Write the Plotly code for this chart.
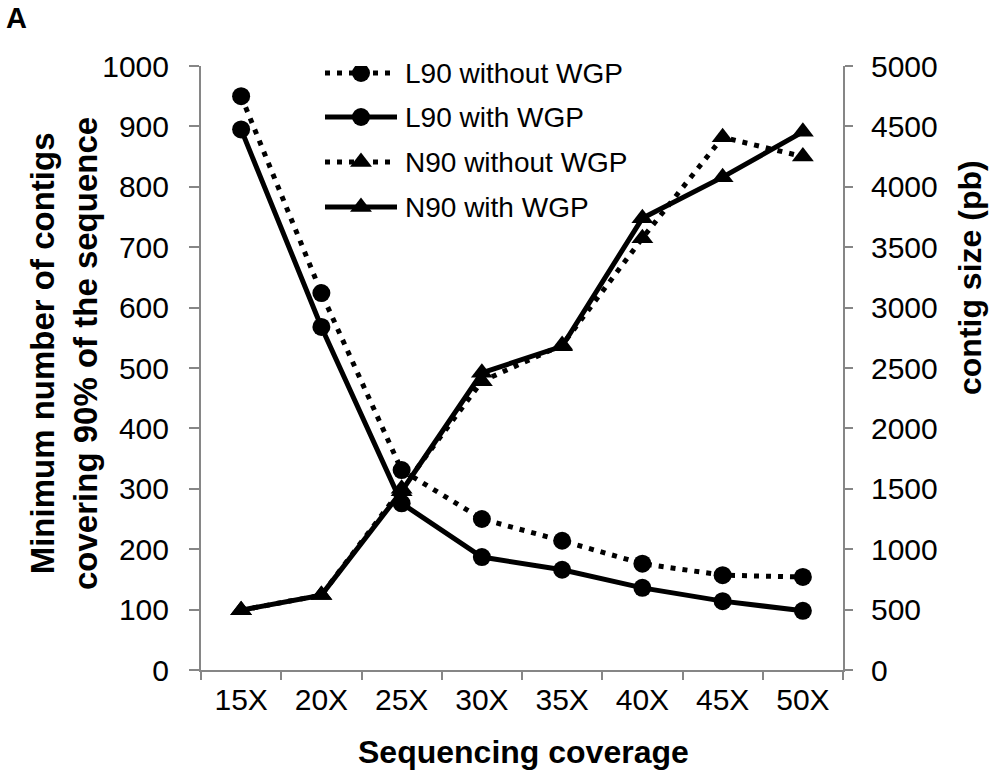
import plotly.graph_objects as go

# ---------------- data ----------------
coverage = ["15X", "20X", "25X", "30X", "35X", "40X", "45X", "50X"]
l90_without_wgp = [950, 624, 331, 250, 214, 176, 157, 154]
l90_with_wgp = [895, 568, 276, 187, 166, 136, 114, 98]
n90_without_wgp = [495, 620, 1500, 2390, 2690, 3575, 4410, 4250]
n90_with_wgp = [495, 620, 1480, 2460, 2680, 3740, 4080, 4455]

series_names = ["L90 without WGP", "L90 with WGP", "N90 without WGP", "N90 with WGP"]
left_ticks = list(range(0, 1001, 100))
right_ticks = list(range(0, 5001, 500))

# ---------------- layout constants ----------------
W, H = 1007, 775
L, R, T, B = 201, 843, 66, 670  # plot area in page pixels
FONT = "Liberation Sans, Arial, sans-serif"
AX = "#868686"
DOT = "5px,7px"

def px(xp):
    return (xp - L) / (R - L)

def py(yp):
    return (B - yp) / (B - T)

styles = [
    dict(dash=DOT, symbol="circle", size=18, yaxis="y"),
    dict(dash="solid", symbol="circle", size=18, yaxis="y"),
    dict(dash=DOT, symbol="triangle-up", size=19, yaxis="y2"),
    dict(dash="solid", symbol="triangle-up", size=19, yaxis="y2"),
]
values = [l90_without_wgp, l90_with_wgp, n90_without_wgp, n90_with_wgp]

fig = go.Figure()
for name, vals, st in zip(series_names, values, styles):
    fig.add_trace(go.Scatter(
        x=coverage, y=vals, name=name, mode="lines+markers",
        yaxis=st["yaxis"],
        line=dict(color="black", width=5, dash=st["dash"]),
        marker=dict(color="black", symbol=st["symbol"], size=st["size"]),
        showlegend=False,
    ))

# ---------------- custom legend (long keys like the original) ----------------
# x3 / y3 use page pixel units over the plot area
legend_rows = [73, 117, 162, 207]
for name, st, yrow in zip(series_names, styles, legend_rows):
    fig.add_trace(go.Scatter(
        x=[325, 397], y=[yrow, yrow], mode="lines", xaxis="x3", yaxis="y3",
        line=dict(color="black", width=5, dash=st["dash"]),
        showlegend=False, hoverinfo="skip",
    ))
    fig.add_trace(go.Scatter(
        x=[361], y=[yrow], mode="markers", xaxis="x3", yaxis="y3",
        marker=dict(color="black", symbol=st["symbol"], size=st["size"]),
        showlegend=False, hoverinfo="skip",
    ))

annotations = []
for name, yrow in zip(series_names, legend_rows):
    annotations.append(dict(
        x=403, y=yrow, xref="x3", yref="y3", text=name, showarrow=False,
        xanchor="left", yanchor="middle",
        font=dict(family=FONT, size=28, color="black"),
    ))

# axis titles and panel letter
annotations += [
    dict(x=px(523), y=py(752), xref="paper", yref="paper",
         text="<b>Sequencing coverage</b>", showarrow=False,
         xanchor="center", yanchor="middle",
         font=dict(family=FONT, size=32, color="black")),
    dict(x=px(64), y=py(354), xref="paper", yref="paper",
         text="<b>Minimum number of contigs<br>covering 90% of the sequence</b>",
         showarrow=False, textangle=-90, xanchor="center", yanchor="middle",
         font=dict(family=FONT, size=33, color="black")),
    dict(x=px(970), y=py(278), xref="paper", yref="paper",
         text="<b>contig size (pb)</b>", showarrow=False, textangle=-90,
         xanchor="center", yanchor="middle",
         font=dict(family=FONT, size=32, color="black")),
    dict(x=px(16), y=py(18), xref="paper", yref="paper",
         text="<b>A</b>", showarrow=False, xanchor="center", yanchor="middle",
         font=dict(family=FONT, size=29, color="black")),
]

tickfont = dict(family=FONT, size=30, color="black")

fig.update_layout(
    width=W, height=H,
    margin=dict(l=L, r=W - R, t=T, b=H - B, pad=0),
    paper_bgcolor="white", plot_bgcolor="white",
    showlegend=False,
    xaxis=dict(
        type="category", categoryorder="array", categoryarray=coverage,
        range=[-0.5, len(coverage) - 0.5],
        tickson="boundaries", ticks="outside", ticklen=8, tickwidth=2,
        tickcolor=AX, showline=True, linecolor=AX, linewidth=2,
        showgrid=False, zeroline=False, tickfont=tickfont,
        ticklabelstandoff=2,
    ),
    yaxis=dict(
        range=[0, 1000], tickvals=left_ticks, ticks="outside", ticklen=10,
        tickwidth=2, tickcolor=AX, showline=True, linecolor=AX, linewidth=2,
        showgrid=False, zeroline=False, tickfont=tickfont,
        ticklabelstandoff=14,
    ),
    yaxis2=dict(
        range=[0, 5000], tickvals=right_ticks, overlaying="y", side="right",
        ticks="outside", ticklen=8, tickwidth=2, tickcolor=AX,
        showline=True, linecolor=AX, linewidth=2, showgrid=False,
        zeroline=False, tickfont=tickfont, ticklabelstandoff=12,
    ),
    xaxis3=dict(range=[L, R], overlaying="x", anchor="y3", visible=False,
                fixedrange=True),
    yaxis3=dict(range=[B, T], overlaying="y", anchor="x3", visible=False,
                fixedrange=True),
    annotations=annotations,
)

# remove the browser's default 8px body margin so the figure fills the window
fig.write_html(
    "out.html",
    config={"displayModeBar": False},
    post_script="document.body.style.margin='0';document.body.style.overflow='hidden';",
)
